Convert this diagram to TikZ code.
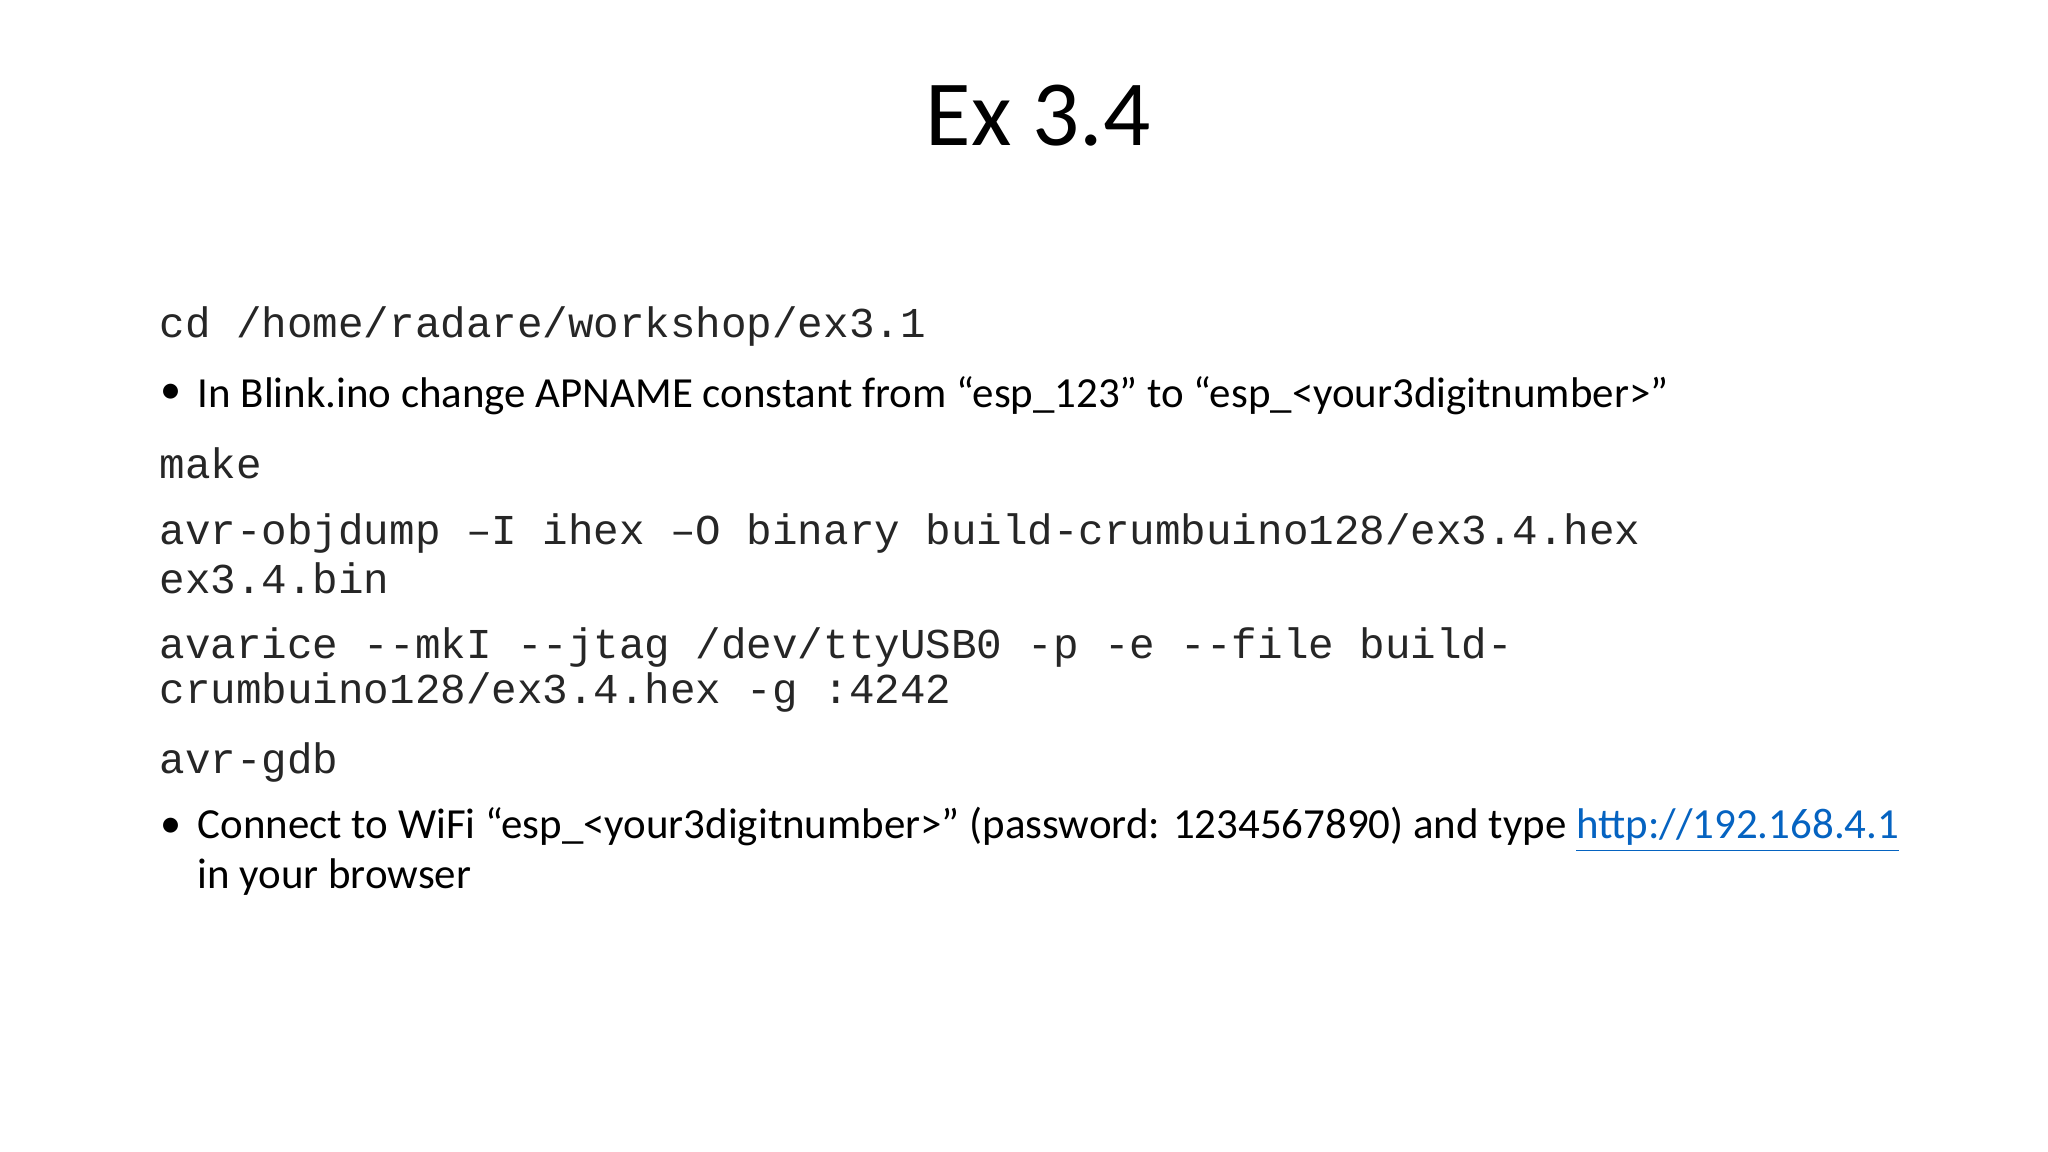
\documentclass[tikz,border=0pt]{standalone}
\usepackage{fontspec}
\setmainfont{Carlito}
\newfontfamily\monof{Liberation Mono}
\newfontfamily\lightf{Carlito}
\definecolor{linkblue}{HTML}{0563C1}
\begin{document}
\begin{tikzpicture}[x=0.01cm,y=-0.01cm]
\tikzset{mono/.style={anchor=west,inner sep=0,font=\monof\fontsize{12.1}{14}\selectfont,text=black!85},
bul/.style={anchor=west,inner sep=0,font=\fontsize{12.2}{15}\selectfont},
dot/.style={anchor=west,inner sep=0,font=\fontsize{12}{15}\selectfont}}
\useasboundingbox[fill=white] (0,0) rectangle (2048,1152);
\node[font=\lightf\fontsize{26.5}{32}\selectfont] (title) at (1038,116) {Ex 3.4};
\node[mono] (l1) at (159,327) {cd /home/radare/workshop/ex3.1};
\node[dot] (d1) at (160,394) {\textbullet};
\node[bul] (b1) at (197,396) {In Blink.ino change APNAME constant from “esp\_123” to “esp\_<your3digitnumber>”};
\node[mono] (l2) at (159,463) {make};
\node[mono] (l3) at (159,533) {avr-objdump –I ihex –O binary build-crumbuino128/ex3.4.hex};
\node[mono] (l4) at (159,578) {ex3.4.bin};
\node[mono] (l5) at (159,647) {avarice --mkI --jtag /dev/ttyUSB0 -p -e --file build-};
\node[mono] (l6) at (159,692) {crumbuino128/ex3.4.hex -g :4242};
\node[mono] (l7) at (159,762) {avr-gdb};
\node[dot] (d2) at (160,828) {\textbullet};
\node[bul] (b2) at (197,830) {Connect to WiFi “esp\_<your3digitnumber>” (password: 1234567890) and type \textcolor{linkblue}{\underline{http://192.168.4.1}}};
\node[bul] (b3) at (197,877) {in your browser};
\end{tikzpicture}
\end{document}
